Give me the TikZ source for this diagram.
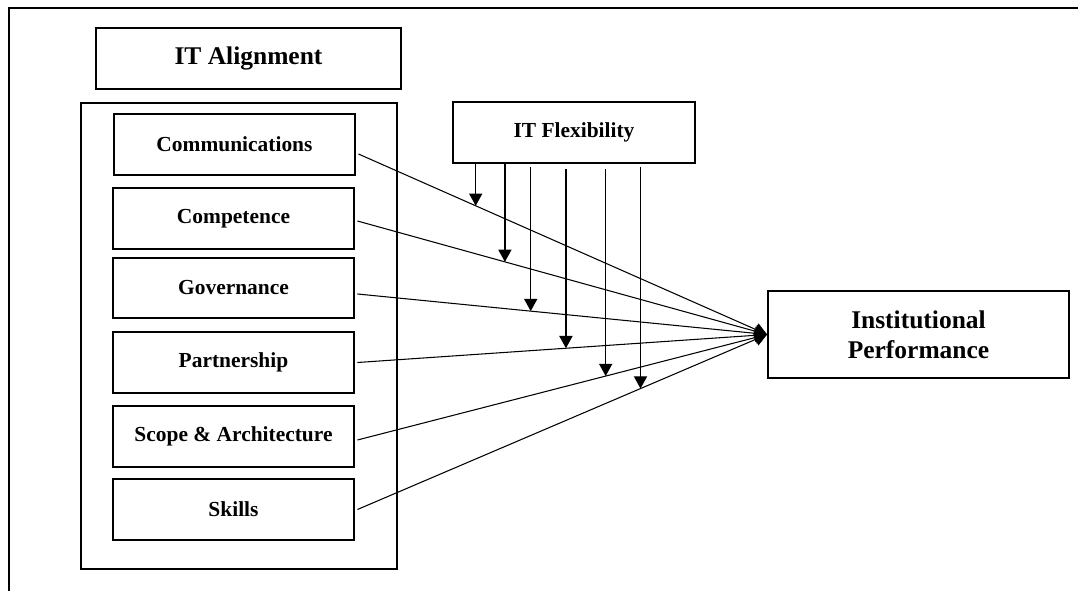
\documentclass[tikz,border=0pt]{standalone}
\usepackage{fontspec}
\setmainfont{Liberation Serif}
\usetikzlibrary{positioning}
\usetikzlibrary{arrows.meta}

\tikzset{
  box/.style={draw, line width=1.1pt, minimum width=4.82cm, minimum height=1.22cm,
    inner sep=0pt, font=\fontsize{12.2}{14}\selectfont\bfseries},
  bigbox/.style={draw, line width=1.1pt, inner sep=0pt, align=center,
    font=\fontsize{14.5}{17}\selectfont\bfseries},
  link/.style={line width=0.6pt, -{Triangle[width=7.5pt,length=7pt]}},
  modarrow/.style={line width=0.75pt, -{Triangle[width=7.5pt,length=7pt]}}
}

\begin{document}
\begin{tikzpicture}[x=0.02cm, y=-0.02cm]
\useasboundingbox (0,0) rectangle (1078,591);

% frame
\draw[line width=1.1pt] (9,591) -- (9,8) -- (1078,8);

\node[bigbox, minimum width=6.1cm, minimum height=1.22cm] (align) at (248.5,58.5) {IT Alignment};
\node[draw, line width=1.1pt, minimum width=6.32cm, minimum height=9.32cm] (group) at (239,336) {};

\node[box] (comm)   at (234.5,144.5) {Communications};
\node[box] (comp)   at (233.5,218.5) {Competence};
\node[box, minimum height=1.2cm] (gov) at (233.5,288) {Governance};
\node[box] (part)   at (233.5,362.5) {Partnership};
\node[box] (scope)  at (233.5,436.5) {Scope \& Architecture};
\node[box] (skills) at (233.5,509.5) {Skills};

\node[box, minimum width=4.84cm] (flex) at (574,132.5) {IT Flexibility};
\node[bigbox, minimum width=6.02cm, minimum height=1.74cm] (perf) at (918.5,334.5) {Institutional\\Performance};

% dimensions to performance
\draw[link] ([xshift=0.05cm,yshift=-0.19cm]comm.east) -- coordinate[pos=0.287] (m1) (perf.west);
\draw[link] ([xshift=0.05cm,yshift=-0.05cm]comp.east) -- coordinate[pos=0.360] (m2) (perf.west);
\draw[link] ([xshift=0.05cm,yshift=-0.12cm]gov.east) -- coordinate[pos=0.423] (m3) (perf.west);
\draw[link] ([xshift=0.05cm]part.east) -- coordinate[pos=0.509] (m4) (perf.west);
\draw[link] ([xshift=0.05cm,yshift=-0.07cm]scope.east) -- coordinate[pos=0.606] (m5) (perf.west);
\draw[link] ([xshift=0.05cm]skills.east) -- coordinate[pos=0.691] (m6) (perf.west);

% moderating arrows
\draw[modarrow] (flex.south -| m1) -- (m1);
\draw[modarrow] (flex.south -| m2) -- (m2);
\draw[modarrow] ([yshift=-0.06cm]flex.south -| m3) -- (m3);
\draw[modarrow] ([yshift=-0.1cm]flex.south -| m4) -- (m4);
\draw[modarrow] ([yshift=-0.1cm]flex.south -| m5) -- (m5);
\draw[modarrow] ([yshift=-0.06cm]flex.south -| m6) -- (m6);

\end{tikzpicture}
\end{document}
